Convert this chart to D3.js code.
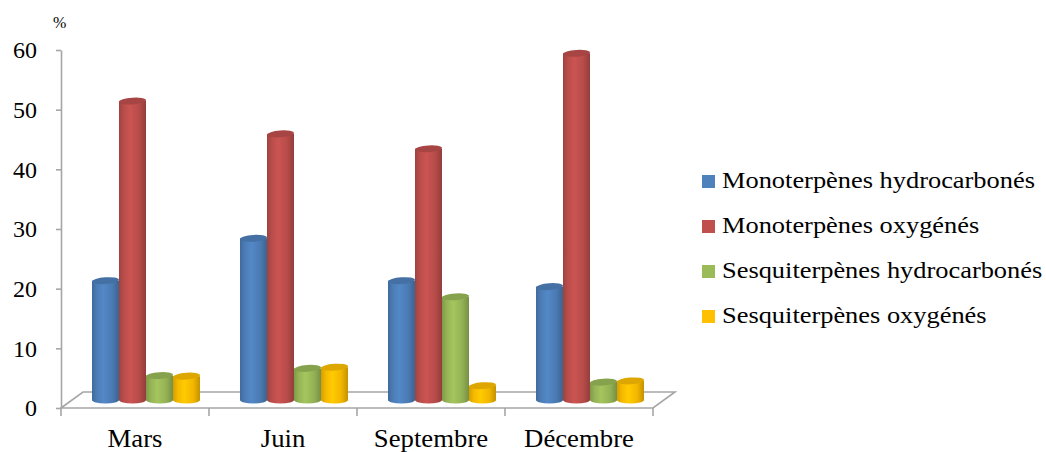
<!DOCTYPE html>
<html>
<head>
<meta charset="utf-8">
<script src="https://cdn.jsdelivr.net/npm/d3@7"></script>
<style>
  body { margin: 0; background: #fff; }
  svg { display: block; }
  svg text { font-family: "Liberation Serif", "Times New Roman", serif; fill: #000; }
</style>
</head>
<body>
<svg id="chart" width="1046" height="452"></svg>
<script>
// Composition (%) of the essential oil by terpene class and month
const categories = ["Mars", "Juin", "Septembre", "Décembre"];
const seriesNames = [
  "Monoterpènes hydrocarbonés",
  "Monoterpènes oxygénés",
  "Sesquiterpènes hydrocarbonés",
  "Sesquiterpènes oxygénés"
];
const monoHydro = [20.0, 27.1, 20.0, 19.0];
const monoOxy   = [50.1, 44.6, 42.1, 58.1];
const sesqHydro = [4.1, 5.3, 17.3, 3.0];
const sesqOxy   = [4.0, 5.5, 2.4, 3.2];
const seriesColors = ["#4F81BD", "#C0504D", "#9BBB59", "#FFC000"];
const yTicks = [0, 10, 20, 30, 40, 50, 60];
const yUnit = "%";

const seriesValues = [monoHydro, monoOxy, sesqHydro, sesqOxy];

const svg = d3.select("#chart");

// plot frame (front plane) and 3D depth offset
const plotLeft = 61, plotRight = 653, plotBottom = 408, plotTop = 50;
const depthX = 22, depthY = -16;

const y = d3.scaleLinear().domain([0, 60]).range([plotBottom, plotTop]);
const x = d3.scaleBand().domain(categories).range([plotLeft, plotRight]);
const xs = d3.scaleBand().domain(seriesNames).range([0, x.bandwidth()])
  .paddingInner(0).paddingOuter(0.74);

const grey = "#a6a6a6";

// floor outline
const floor = [
  [plotLeft, y(0)], [plotLeft + depthX, y(0) + depthY],
  [plotRight + depthX, y(0) + depthY], [plotRight, y(0)]
];
svg.append("path")
  .attr("d", d3.line()(floor) + "Z")
  .attr("fill", "none").attr("stroke", grey).attr("stroke-width", 1.6);

// value axis
const yAxis = svg.append("g").attr("transform", `translate(${plotLeft},0)`)
  .call(d3.axisLeft(y).tickValues(yTicks).tickSize(5).tickSizeOuter(0).tickPadding(19));
yAxis.attr("font-family", null).attr("font-size", null);
yAxis.select(".domain").attr("stroke", grey).attr("stroke-width", 1.6);
yAxis.selectAll(".tick line").attr("stroke", grey).attr("stroke-width", 1.6);
yAxis.selectAll(".tick text").style("font-size", "24px");

svg.append("text").attr("x", 53).attr("y", 28).style("font-size", "16px").text(yUnit);

// category axis: boundary ticks and labels
const boundaries = categories.map(c => x(c)).concat([plotRight]);
svg.append("g").selectAll("line").data(boundaries).join("line")
  .attr("x1", d => d).attr("x2", d => d)
  .attr("y1", y(0)).attr("y2", y(0) + 8)
  .attr("stroke", grey).attr("stroke-width", 1.6);
svg.append("g").selectAll("text").data(categories).join("text")
  .attr("transform", d => `translate(${x(d) + x.bandwidth() / 2},447) scale(1.07,1)`)
  .attr("text-anchor", "middle")
  .style("font-size", "25px")
  .text(d => d);

// cylinder shading gradients
const defs = svg.append("defs");
seriesColors.forEach((col, i) => {
  const c = d3.color(col);
  const g = defs.append("linearGradient").attr("id", "cyl" + i)
    .attr("x1", 0).attr("x2", 1).attr("y1", 0).attr("y2", 0);
  g.append("stop").attr("offset", 0).attr("stop-color", c.darker(0.55));
  g.append("stop").attr("offset", 0.18).attr("stop-color", c.darker(0.1));
  g.append("stop").attr("offset", 0.42).attr("stop-color", c.brighter(0.15));
  g.append("stop").attr("offset", 0.75).attr("stop-color", c.darker(0.15));
  g.append("stop").attr("offset", 1).attr("stop-color", c.darker(0.75));
});

// cylinders, standing at mid-depth of the floor
const rx = xs.bandwidth() / 2, ry = 3.4;
const bars = [];
categories.forEach((cat, ci) => {
  seriesNames.forEach((s, si) => {
    bars.push({ cat, si, v: seriesValues[si][ci] });
  });
});

const barG = svg.append("g").selectAll("g").data(bars).join("g")
  .attr("transform", d => `translate(${x(d.cat) + xs(seriesNames[d.si]) + rx + depthX / 2},${depthY / 2})`);

barG.append("path")
  .attr("d", d => {
    const yb = y(0), yt = y(d.v);
    return `M${-rx},${yt} L${-rx},${yb} A${rx},${ry} 0 0 0 ${rx},${yb} L${rx},${yt} Z`;
  })
  .attr("fill", d => `url(#cyl${d.si})`);

barG.append("ellipse")
  .attr("cx", 0).attr("cy", d => y(d.v))
  .attr("rx", rx).attr("ry", ry)
  .attr("transform", d => `rotate(-4,0,${y(d.v)})`)
  .attr("fill", d => d3.color(seriesColors[d.si]).darker(0.4));

// legend
const legend = svg.append("g").selectAll("g").data(seriesNames).join("g")
  .attr("transform", (d, i) => `translate(702,${188 + i * 45})`);
legend.append("rect").attr("x", 0).attr("y", -13).attr("width", 13).attr("height", 13)
  .attr("fill", (d, i) => seriesColors[i]);
legend.append("text")
  .attr("transform", "translate(20,0) scale(1.1,1)")
  .style("font-size", "24px")
  .text(d => d);
</script>
</body>
</html>
